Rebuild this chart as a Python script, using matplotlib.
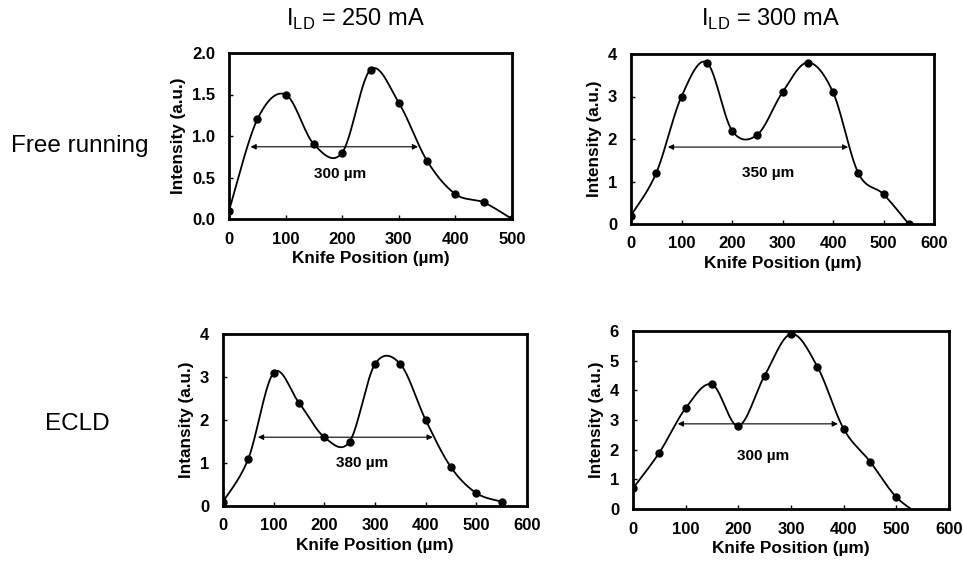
import numpy as np
import matplotlib
matplotlib.use("Agg")
import matplotlib.pyplot as plt

plt.rcParams['font.family'] = ['Liberation Sans', 'DejaVu Sans']

# knife-edge scans (knife position in um, intensity in a.u.)
x_fr250 = [0, 50, 100, 150, 200, 250, 300, 350, 400, 450, 500]
y_fr250 = [0.1, 1.2, 1.5, 0.9, 0.8, 1.8, 1.4, 0.7, 0.3, 0.2, 0.0]

x_fr300 = [0, 50, 100, 150, 200, 250, 300, 350, 400, 450, 500, 550]
y_fr300 = [0.2, 1.2, 3.0, 3.8, 2.2, 2.1, 3.1, 3.8, 3.1, 1.2, 0.7, 0.0]

x_ec250 = [0, 50, 100, 150, 200, 250, 300, 350, 400, 450, 500, 550]
y_ec250 = [0.1, 1.1, 3.1, 2.4, 1.6, 1.5, 3.3, 3.3, 2.0, 0.9, 0.3, 0.1]

x_ec300 = [0, 50, 100, 150, 200, 250, 300, 350, 400, 450, 500, 550]
y_ec300 = [0.7, 1.9, 3.4, 4.2, 2.8, 4.5, 5.9, 4.8, 2.7, 1.6, 0.4, -0.25]

# beam width markers: (x start, x end, y level, label x, label y, label)
w_fr250 = (38, 334, 0.87, 196, 0.54, '300 µm')
w_fr300 = (73, 430, 1.81, 271, 1.2, '350 µm')
w_ec250 = (69, 414, 1.6, 274, 1.0, '380 µm')
w_ec300 = (85, 389, 2.87, 247, 1.8, '300 µm')


def smooth(x, y, n=30):
    # excel-like smoothed line (catmull-rom bezier through the points)
    x = np.asarray(x, float)
    y = np.asarray(y, float)
    xs, ys = [], []
    for i in range(len(x) - 1):
        p0 = np.array([x[max(i - 1, 0)], y[max(i - 1, 0)]])
        p1 = np.array([x[i], y[i]])
        p2 = np.array([x[i + 1], y[i + 1]])
        p3 = np.array([x[min(i + 2, len(x) - 1)], y[min(i + 2, len(x) - 1)]])
        c1 = p1 + (p2 - p0) / 6
        c2 = p2 - (p3 - p1) / 6
        t = np.linspace(0, 1, n)[:, None]
        pts = ((1 - t) ** 3) * p1 + 3 * ((1 - t) ** 2) * t * c1 + 3 * (1 - t) * t ** 2 * c2 + t ** 3 * p2
        xs.extend(pts[:, 0])
        ys.extend(pts[:, 1])
    return xs, ys


fig = plt.figure(figsize=(9.63, 5.65), dpi=100)
W, H = 963, 565


def make_ax(l, r, t, b):
    return fig.add_axes([l / W, 1 - b / H, (r - l) / W, (b - t) / H])


panels = [
    (make_ax(229, 512, 53, 219), x_fr250, y_fr250, w_fr250, 500, 2.0, 0.5, 'Intensity (a.u.)', '%.1f'),
    (make_ax(631, 934, 54, 224), x_fr300, y_fr300, w_fr300, 600, 4, 1, 'Intensity (a.u.)', '%d'),
    (make_ax(223, 527, 334, 506), x_ec250, y_ec250, w_ec250, 600, 4, 1, 'Intansity (a.u.)', '%d'),
    (make_ax(633, 949, 331, 509), x_ec300, y_ec300, w_ec300, 600, 6, 1, 'Intensity (a.u.)', '%d'),
]

for ax, x, y, w, xmax, ymax, ystep, ylab, fmt in panels:
    sx, sy = smooth(x, y)
    ax.plot(sx, sy, color='black', lw=1.3)
    ax.plot(x, y, 'o', color='black', ms=5)
    ax.annotate('', xy=(w[0], w[2]), xytext=(w[1], w[2]),
                arrowprops=dict(arrowstyle='<|-|>', color='black', lw=0.8,
                                mutation_scale=8, shrinkA=0, shrinkB=0))
    ax.text(w[3], w[4], w[5], ha='center', va='center', fontsize=11, fontweight='bold')
    ax.set_xlim(0, xmax)
    ax.set_ylim(0, ymax)
    ax.set_xticks(np.arange(0, xmax + 1, 100))
    ax.set_yticks(np.arange(0, ymax + 0.001, ystep))
    ax.set_yticklabels([fmt % v for v in np.arange(0, ymax + 0.001, ystep)])
    ax.tick_params(direction='in', length=3, width=1, labelsize=12)
    ax.tick_params(axis='x', pad=9)
    ax.tick_params(axis='y', pad=10)
    for lab in ax.get_xticklabels() + ax.get_yticklabels():
        lab.set_fontweight('bold')
    for s in ax.spines.values():
        s.set_linewidth(2)
    ax.set_xlabel('Knife Position (µm)', fontsize=12.4, fontweight='bold', labelpad=3)
    ax.set_ylabel(ylab, fontsize=12.3, fontweight='bold', labelpad=4)

fig.text(355 / W, 1 - 19 / H, r'I$_{\mathregular{LD}}$ = 250 mA', ha='center', va='center', fontsize=17)
fig.text(770 / W, 1 - 19 / H, r'I$_{\mathregular{LD}}$ = 300 mA', ha='center', va='center', fontsize=17)
fig.text(80 / W, 1 - 146 / H, 'Free running', ha='center', va='center', fontsize=17.5)
fig.text(77 / W, 1 - 424 / H, 'ECLD', ha='center', va='center', fontsize=17.5)

fig.savefig('out.png', dpi=100)
